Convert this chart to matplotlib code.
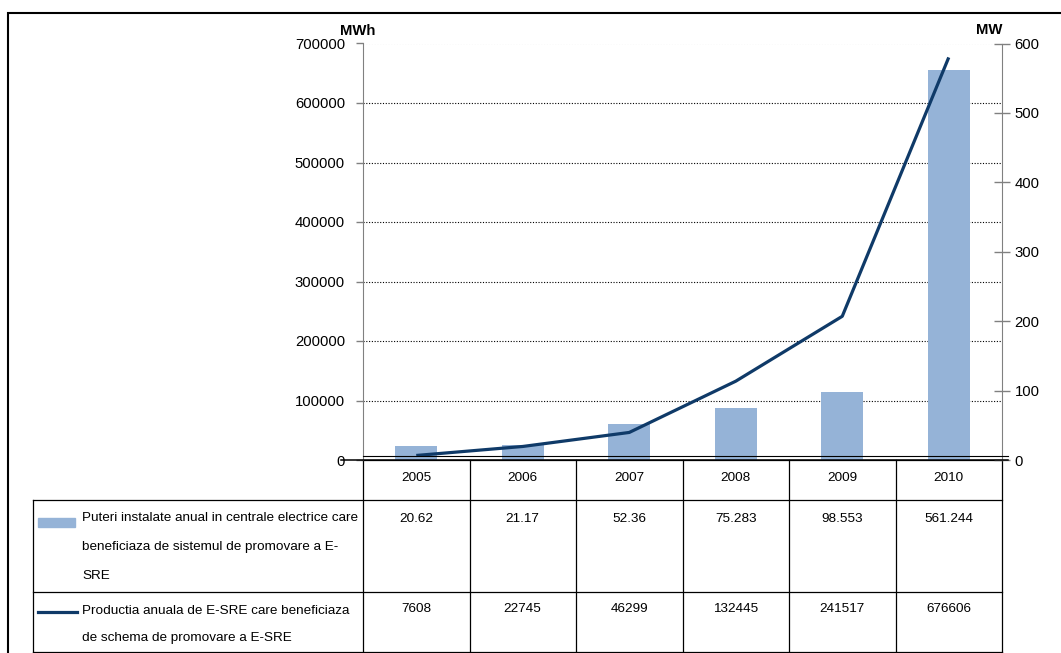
import matplotlib.pyplot as plt
import matplotlib.transforms as mtransforms
from matplotlib import font_manager
from matplotlib.lines import Line2D
from matplotlib.patches import Rectangle

names = {f.name for f in font_manager.fontManager.ttflist}
if 'Liberation Sans Narrow' in names:
    plt.rcParams['font.family'] = ['Liberation Sans Narrow', 'DejaVu Sans']
    fs_tick, fs_tab = 12, 11
else:
    plt.rcParams['font.family'] = ['Liberation Sans', 'DejaVu Sans']
    fs_tick, fs_tab = 10.7, 9.7

years = ['2005', '2006', '2007', '2008', '2009', '2010']
putere_mw = [20.62, 21.17, 52.36, 75.283, 98.553, 561.244]
productie_mwh = [7608, 22745, 46299, 132445, 241517, 676606]
putere_lbl = ['20.62', '21.17', '52.36', '75.283', '98.553', '561.244']
productie_lbl = ['7608', '22745', '46299', '132445', '241517', '676606']

label_bar = ['Puteri instalate anual in centrale electrice care',
             'beneficiaza de sistemul de promovare a E-', 'SRE']
label_line = ['Productia anuala de E-SRE care beneficiaza',
              'de schema de promovare a E-SRE']

bar_color = '#95b3d7'
line_color = '#0f3a68'

W, H = 1061, 653
fig = plt.figure(figsize=(W / 100, H / 100), dpi=100)

# axes box in pixels
x0, x1, y0, y1 = 363, 1002, 43.5, 460
ax = fig.add_axes([x0 / W, 1 - y1 / H, (x1 - x0) / W, (y1 - y0) / H])

def ay(py):
    # pixel row -> axes fraction
    return (y1 - py) / (y1 - y0)

def axx(px):
    return (px - x0) / (x1 - x0)

xs = list(range(len(years)))

# left axis: gridlines only (below bars)
ax.set_xlim(-0.5, len(years) - 0.5)
ax.set_ylim(0, 700000)
ax.set_yticks(range(0, 700001, 100000))
ax.set_yticklabels([str(v) for v in range(0, 700001, 100000)])
for v in range(100000, 700000, 100000):
    ax.axhline(v, color='black', lw=0.8, ls=(0, (1, 1.5)), zorder=0)
ax.axhline(700000, color='#b0b0b0', lw=0.8, ls=(0, (1, 1.5)), zorder=0)
ax.set_xticks([])
ax.tick_params(axis='y', direction='out', length=5, width=1, color='#808080',
               pad=8, labelsize=fs_tick)
for s in ['top', 'right']:
    ax.spines[s].set_visible(False)
ax.spines['left'].set_color('#808080')
ax.spines['bottom'].set_visible(False)

# right axis: bars (MW)
ax2 = ax.twinx()
ax2.bar(xs, putere_mw, width=0.39, color=bar_color, zorder=2)
ax2.set_ylim(0, 600)
ax2.set_yticks(range(0, 601, 100))
ax2.tick_params(axis='y', direction='inout', length=12, width=1, color='#808080',
                pad=3, labelsize=fs_tick)
for s in ['top', 'left', 'bottom']:
    ax2.spines[s].set_visible(False)
ax2.spines['right'].set_color('#808080')
ax2.set_xlim(-0.5, len(years) - 0.5)

# line on an overlay with the left scale
ax3 = ax.twinx()
ax3.set_ylim(0, 700000)
ax3.set_xlim(-0.5, len(years) - 0.5)
ax3.plot(xs, productie_mwh, color=line_color, lw=2.3, solid_capstyle='butt')
ax3.axis('off')

# base lines
ax3.plot([-0.035, 1.01], [0, 0], transform=ax3.transAxes, color='black', lw=1.1, clip_on=False)
ax3.plot([0, 1.01], [ay(455.7), ay(455.7)], transform=ax3.transAxes, color='black', lw=0.8, clip_on=False)

fig.text(358 / W, 1 - 31 / H, 'MWh', ha='center', va='center', fontsize=fs_tick, fontweight='bold')
fig.text(989 / W, 1 - 30 / H, 'MW', ha='center', va='center', fontsize=fs_tick, fontweight='bold')

# data table under the chart
trans = mtransforms.blended_transform_factory(ax.transData, ax.transAxes)
xl = axx(33)
r_head, r1, r2, r_end = ay(460), ay(500), ay(592), ay(652)
kw = dict(color='black', lw=0.9, clip_on=False)
ax.add_line(Line2D([0, 1], [r_head, r_head], transform=ax.transAxes, **kw))
for r in (r1, r2, r_end):
    ax.add_line(Line2D([xl, 1], [r, r], transform=ax.transAxes, **kw))
ax.add_line(Line2D([xl, xl], [r1, r_end], transform=ax.transAxes, **kw))
for i in range(len(years) + 1):
    ax.add_line(Line2D([i - 0.5, i - 0.5], [r_head, r_end], transform=trans, **kw))

for i, yr in enumerate(years):
    ax.text(i, ay(478), yr, transform=trans, ha='center', va='center', fontsize=fs_tab)
    ax.text(i, ay(519), putere_lbl[i], transform=trans, ha='center', va='center', fontsize=fs_tab)
    ax.text(i, ay(609), productie_lbl[i], transform=trans, ha='center', va='center', fontsize=fs_tab)

# legend cells
ax.add_patch(Rectangle((axx(38), ay(527)), axx(75) - axx(38), 9 / (y1 - y0),
                       transform=ax.transAxes, color=bar_color, clip_on=False))
ax.add_line(Line2D([axx(38), axx(77)], [ay(612), ay(612)],
                   transform=ax.transAxes, color=line_color, lw=2.3, clip_on=False))
for k, txt in enumerate(label_bar):
    ax.text(axx(82), ay(518 + 29 * k), txt, transform=ax.transAxes,
            ha='left', va='center', fontsize=fs_tab)
for k, txt in enumerate(label_line):
    ax.text(axx(82), ay(611 + 27 * k), txt, transform=ax.transAxes,
            ha='left', va='center', fontsize=fs_tab)

# outer frame
fig.add_artist(Rectangle((8 / W, -0.05), 1.1, 1 - 13 / H + 0.05, transform=fig.transFigure,
                         fill=False, ec='black', lw=1.5))

fig.savefig('out.png', dpi=100)
